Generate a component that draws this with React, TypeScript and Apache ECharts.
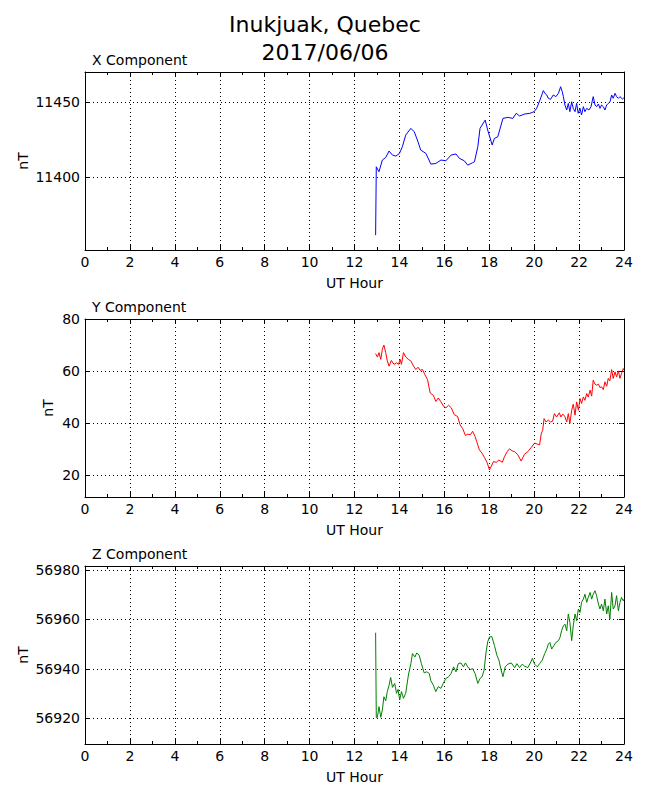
import React, { useEffect, useRef } from "react";
import * as echarts from "echarts";

// ---------- data ----------
const hourTicks = [0, 2, 4, 6, 8, 10, 12, 14, 16, 18, 20, 22, 24];

const xCompHours = [
  12.94, 12.97, 13.09, 13.24, 13.39, 13.54, 13.69, 13.84, 14.0, 14.13, 14.28, 14.51, 14.66, 14.8, 14.95,
  15.18, 15.4, 15.62, 15.85, 16.07, 16.3, 16.52, 16.67, 16.89, 17.04, 17.26, 17.34, 17.49, 17.59, 17.82,
  17.93, 18.13, 18.23, 18.38, 18.61, 18.83, 19.05, 19.2, 19.35, 19.57, 19.81, 20.0, 20.11, 20.26, 20.41,
  20.48, 20.56, 20.63, 20.73, 20.85, 20.97, 21.08, 21.18, 21.25, 21.3, 21.37, 21.45, 21.52, 21.59, 21.67,
  21.74, 21.82, 21.89, 21.96, 22.04, 22.11, 22.19, 22.26, 22.34, 22.44, 22.53, 22.63, 22.71, 22.78, 22.86,
  22.93, 23.0, 23.08, 23.15, 23.23, 23.3, 23.38, 23.45, 23.52, 23.6, 23.67, 23.75, 23.82, 23.93, 24.0,
];
const xCompValues = [
  11361.6, 11407.1, 11403.8, 11411.6, 11413.3, 11417.6, 11414.9, 11414.2, 11416.0, 11420.4, 11428.2, 11432.7,
  11430.4, 11424.9, 11418.2, 11416.0, 11408.9, 11409.3, 11411.6, 11411.1, 11414.9, 11415.6, 11412.7, 11411.1,
  11408.2, 11409.8, 11410.4, 11420.4, 11432.7, 11438.2, 11431.6, 11421.6, 11426.0, 11427.1, 11439.3, 11440.0,
  11439.3, 11442.7, 11440.9, 11442.2, 11442.7, 11443.8, 11446.0, 11451.6, 11457.8, 11456.0, 11454.9, 11452.7,
  11452.0, 11454.9, 11453.8, 11456.0, 11460.4, 11457.1, 11453.8, 11448.2, 11444.9, 11449.3, 11443.8, 11450.4,
  11446.0, 11443.8, 11449.3, 11442.7, 11446.0, 11441.6, 11447.1, 11443.8, 11446.0, 11444.9, 11447.1, 11453.8,
  11448.2, 11447.1, 11448.9, 11446.0, 11448.2, 11447.1, 11444.9, 11448.2, 11449.3, 11450.4, 11454.9, 11452.7,
  11456.0, 11453.8, 11452.7, 11453.8, 11452.2, 11453.1,
];

const yCompHours = [
  12.94, 13.02, 13.09, 13.17, 13.24, 13.31, 13.39, 13.46, 13.54, 13.64, 13.76, 13.87, 13.96, 14.03, 14.09,
  14.18, 14.28, 14.4, 14.51, 14.63, 14.73, 14.83, 14.92, 15.03, 15.13, 15.25, 15.37, 15.51, 15.62, 15.73,
  15.85, 15.97, 16.07, 16.19, 16.31, 16.44, 16.59, 16.7, 16.82, 16.94, 17.04, 17.16, 17.26, 17.37, 17.44,
  17.56, 17.68, 17.79, 17.9, 18.01, 18.08, 18.19, 18.31, 18.43, 18.58, 18.68, 18.8, 18.9, 19.02, 19.13,
  19.28, 19.42, 19.57, 19.72, 19.87, 20.02, 20.14, 20.24, 20.32, 20.38, 20.44, 20.53, 20.63, 20.73, 20.82,
  20.9, 21.0, 21.12, 21.19, 21.27, 21.36, 21.45, 21.52, 21.59, 21.67, 21.74, 21.82, 21.89, 21.97, 22.04,
  22.11, 22.19, 22.26, 22.34, 22.41, 22.49, 22.56, 22.63, 22.71, 22.78, 22.86, 22.93, 23.0, 23.08, 23.15,
  23.23, 23.3, 23.37, 23.45, 23.52, 23.6, 23.67, 23.75, 23.82, 23.89, 23.97, 24.0,
];
const yCompValues = [
  66.7, 65.4, 67.1, 64.5, 68.4, 70.0, 67.1, 63.9, 61.9, 64.1, 62.6, 63.2, 62.6, 64.5, 62.6,
  67.1, 65.4, 64.5, 63.9, 61.9, 60.6, 61.5, 60.3, 60.6, 58.7, 56.8, 51.6, 50.7, 48.4, 49.7,
  48.2, 46.5, 45.9, 46.9, 45.9, 43.3, 42.6, 39.4, 37.9, 35.3, 35.8, 35.6, 36.9, 34.9, 33.0,
  29.8, 28.5, 26.8, 25.0, 22.1, 23.3, 25.3, 25.0, 25.9, 25.0, 27.2, 29.1, 30.2, 29.4, 29.1,
  27.8, 25.5, 28.1, 29.1, 30.7, 32.4, 32.0, 31.7, 36.2, 37.3, 41.8, 40.5, 41.2, 40.5, 40.8,
  43.7, 42.4, 44.0, 42.4, 43.5, 42.7, 40.5, 43.7, 39.9, 45.0, 47.3, 43.1, 48.2, 45.0, 49.5,
  47.6, 50.1, 48.8, 51.4, 50.1, 52.7, 50.4, 56.5, 55.0, 54.6, 55.0, 53.7, 54.0, 52.9, 55.9,
  54.2, 57.2, 56.3, 60.6, 57.2, 59.7, 57.8, 60.1, 57.2, 59.1, 61.0, 60.4,
];

const zCompHours = [
  12.94, 12.97, 13.02, 13.09, 13.17, 13.24, 13.31, 13.39, 13.46, 13.54, 13.61, 13.69, 13.79, 13.87, 13.94,
  14.01, 14.09, 14.18, 14.28, 14.4, 14.51, 14.58, 14.69, 14.77, 14.88, 14.98, 15.1, 15.22, 15.33, 15.4,
  15.51, 15.62, 15.73, 15.85, 15.95, 16.07, 16.19, 16.3, 16.41, 16.52, 16.62, 16.74, 16.85, 16.94, 17.04,
  17.16, 17.26, 17.37, 17.49, 17.59, 17.68, 17.77, 17.86, 17.93, 18.01, 18.11, 18.23, 18.34, 18.43, 18.53,
  18.61, 18.71, 18.83, 18.98, 19.13, 19.23, 19.35, 19.47, 19.57, 19.72, 19.83, 19.92, 20.02, 20.14, 20.24,
  20.36, 20.47, 20.57, 20.63, 20.7, 20.78, 20.88, 20.97, 21.08, 21.15, 21.22, 21.3, 21.37, 21.45, 21.52,
  21.59, 21.67, 21.74, 21.82, 21.89, 21.97, 22.04, 22.11, 22.19, 22.26, 22.34, 22.41, 22.49, 22.56, 22.63,
  22.71, 22.78, 22.86, 22.93, 23.0, 23.08, 23.15, 23.23, 23.3, 23.37, 23.45, 23.52, 23.6, 23.67, 23.75,
  23.82, 23.89, 23.97, 24.0,
];
const zCompValues = [
  56954.6, 56920.3, 56920.4, 56924.7, 56920.4, 56923.4, 56928.7, 56927.1, 56930.8, 56933.4, 56936.5, 56932.5,
  56934.1, 56930.1, 56931.7, 56927.4, 56930.8, 56928.1, 56930.1, 56937.5, 56942.1, 56946.2, 56944.8, 56946.4,
  56945.5, 56942.1, 56938.4, 56938.8, 56938.1, 56935.2, 56933.4, 56930.8, 56932.8, 56932.1, 56934.1, 56936.1,
  56936.8, 56938.1, 56940.8, 56938.8, 56942.1, 56942.4, 56940.8, 56942.4, 56940.8, 56939.7, 56940.1, 56938.1,
  56934.1, 56936.1, 56936.8, 56939.5, 56946.8, 56950.9, 56952.9, 56953.1, 56949.5, 56945.5, 56943.5, 56939.5,
  56936.8, 56940.8, 56941.9, 56942.4, 56940.5, 56942.1, 56940.5, 56941.9, 56941.1, 56940.5, 56942.4, 56944.2,
  56941.9, 56940.8, 56942.1, 56943.5, 56946.2, 56948.2, 56950.0, 56950.7, 56948.0, 56949.4, 56950.7, 56951.4,
  56952.7, 56955.4, 56957.4, 56958.1, 56955.4, 56962.2, 56958.8, 56951.4, 56957.4, 56962.2, 56959.5, 56964.2,
  56962.8, 56966.9, 56968.2, 56970.2, 56966.9, 56968.9, 56970.9, 56968.2, 56970.2, 56971.6, 56969.6, 56966.2,
  56964.2, 56966.2, 56963.5, 56968.2, 56962.2, 56965.5, 56960.1, 56970.9, 56964.2, 56965.5, 56969.6, 56963.5,
  56966.9, 56968.9, 56967.5, 56968.2,
];

const xCompTicks = [11400, 11450];
const yCompTicks = [20, 40, 60, 80];
const zCompTicks = [56920, 56940, 56960, 56980];

const xCompRange = [11351.7, 11470.2];
const yCompRange = [11.7, 80];
const zCompRange = [56909.6, 56981.6];

const mainTitle = "Inukjuak, Quebec\n2017/06/06";
const panelTitles = ["X Component", "Y Component", "Z Component"];
const xAxisName = "UT Hour";
const yAxisName = "nT";

// ---------- layout ----------
const FONT = "DejaVu Sans";
const PLOT_LEFT = 85;
const PLOT_WIDTH = 539;
const PLOT_HEIGHT = 178;
const PLOT_TOPS = [72, 319, 566];

function buildOption() {
  const panels = [
    { hours: xCompHours, values: xCompValues, ticks: xCompTicks, range: xCompRange, color: "#0000ff", nameGap: 55 },
    { hours: yCompHours, values: yCompValues, ticks: yCompTicks, range: yCompRange, color: "#ff0000", nameGap: 30 },
    { hours: zCompHours, values: zCompValues, ticks: zCompTicks, range: zCompRange, color: "#008000", nameGap: 55 },
  ];

  const textBase = { color: "#000", fontFamily: FONT, fontSize: 14 };
  const lineBlack = { color: "#000", width: 1 };
  const dotted = { color: "#000", width: 1, type: [1, 3] as number[] };
  const plain = (v: number) => String(Math.round(v));

  const grid: any[] = [];
  const xAxis: any[] = [];
  const yAxis: any[] = [];
  const series: any[] = [];
  const title: any[] = [
    {
      text: mainTitle,
      left: "center",
      top: 10,
      padding: 0,
      textStyle: { ...textBase, fontSize: 22, lineHeight: 28, fontWeight: "normal" },
    },
  ];

  panels.forEach((p, i) => {
    const top = PLOT_TOPS[i];
    grid.push({ left: PLOT_LEFT, top, width: PLOT_WIDTH, height: PLOT_HEIGHT, containLabel: false, show: false });
    title.push({
      text: panelTitles[i],
      left: 92,
      top: top - 19,
      padding: 0,
      textStyle: { ...textBase, fontWeight: "normal" },
    });

    const xCommon = {
      gridIndex: i,
      type: "value",
      min: hourTicks[0],
      max: hourTicks[hourTicks.length - 1],
      interval: hourTicks[1] - hourTicks[0],
      axisLine: { show: true, onZero: false, lineStyle: lineBlack },
      axisTick: { show: true, inside: true, length: 5, lineStyle: lineBlack },
      minorTick: { show: true, splitNumber: 2, length: 3, lineStyle: lineBlack },
    };
    xAxis.push({
      ...xCommon,
      position: "bottom",
      axisLabel: { ...textBase, margin: 5, hideOverlap: false, formatter: plain },
      splitLine: { show: true, lineStyle: dotted },
      name: xAxisName,
      nameLocation: "middle",
      nameGap: 26,
      nameMoveOverlap: false,
      nameTextStyle: textBase,
    });
    xAxis.push({
      ...xCommon,
      position: "top",
      axisLabel: { show: false },
      splitLine: { show: false },
    });

    const yCommon = {
      gridIndex: i,
      type: "value",
      min: p.range[0],
      max: p.range[1],
      scale: true,
      axisLine: { show: true, onZero: false, lineStyle: lineBlack },
      axisTick: { show: true, inside: true, length: 5, lineStyle: lineBlack, customValues: p.ticks },
      minorTick: { show: false },
    };
    yAxis.push({
      ...yCommon,
      position: "left",
      axisLabel: { ...textBase, margin: 5, customValues: p.ticks, hideOverlap: false, formatter: plain },
      splitLine: { show: true, lineStyle: dotted },
      name: yAxisName,
      nameLocation: "middle",
      nameRotate: 90,
      nameGap: p.nameGap,
      nameMoveOverlap: false,
      nameTextStyle: textBase,
    });
    yAxis.push({
      ...yCommon,
      position: "right",
      axisLabel: { show: false, customValues: p.ticks },
      splitLine: { show: false },
    });

    series.push({
      type: "line",
      xAxisIndex: i * 2,
      yAxisIndex: i * 2,
      data: p.hours.map((h, k) => [h, p.values[k]]),
      showSymbol: false,
      symbol: "none",
      silent: true,
      clip: true,
      lineStyle: { color: p.color, width: 1 },
      itemStyle: { color: p.color },
    });
  });

  return {
    animation: false,
    backgroundColor: "#ffffff",
    title,
    grid,
    xAxis,
    yAxis,
    series,
  };
}

export default function App() {
  const ref = useRef<HTMLDivElement>(null);
  useEffect(() => {
    if (!ref.current) return;
    const chart = echarts.init(ref.current, undefined, { renderer: "svg" });
    chart.setOption(buildOption() as any);
    return () => chart.dispose();
  }, []);
  return (
    <div
      ref={ref}
      style={{ position: "absolute", left: 0, top: 0, width: 650, height: 800, background: "#fff" }}
    />
  );
}
